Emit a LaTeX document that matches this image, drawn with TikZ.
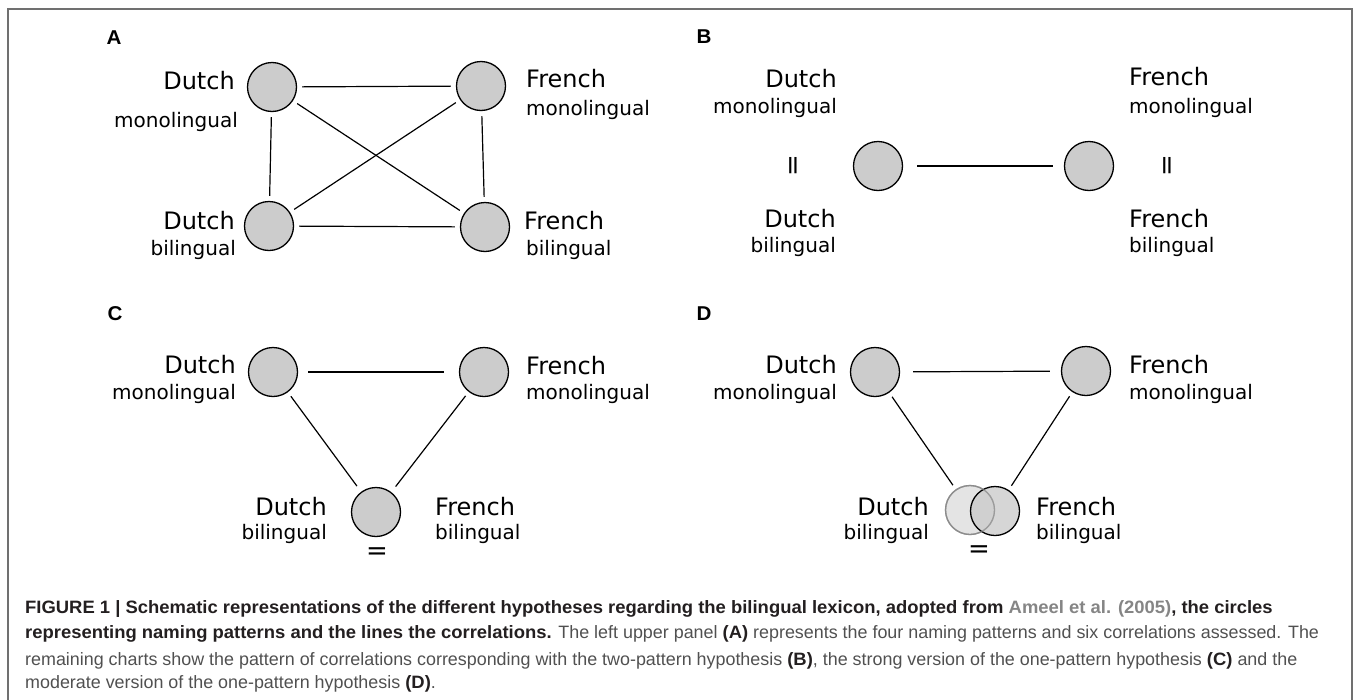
\documentclass[tikz,border=0pt]{standalone}
\usepackage{fontspec}
\setmainfont{DejaVu Sans}
\newfontfamily\capfont{Liberation Sans}[BoldFeatures={FakeStretch=1.03}]
\definecolor{circfill}{HTML}{CCCCCC}
\definecolor{lightfill}{HTML}{E4E4E4}
\definecolor{lightline}{HTML}{8C8C8C}
\definecolor{framegray}{HTML}{707070}
\definecolor{captext}{HTML}{505050}
\definecolor{capbold}{HTML}{231F20}
\definecolor{capref}{HTML}{858585}
\newcommand{\capb}[1]{{\color{capbold}\bfseries #1}}
\tikzset{
  npat/.style={circle,draw,fill=circfill,line width=1.3pt,minimum size=49pt,inner sep=0pt},
  corr/.style={line width=1.2pt,shorten <=5pt,shorten >=5pt},
  grp/.style={inner sep=0pt,font=\fontsize{24}{24}\selectfont},
  sub/.style={inner sep=0pt,font=\fontsize{20}{20}\selectfont},
  panel/.style={inner sep=0pt,font=\capfont\bfseries\fontsize{20}{20}\selectfont},
  eqsign/.style={inner sep=0pt,font=\fontsize{26}{26}\selectfont},
  capline/.style={inner sep=0pt,anchor=base west,text=captext,font=\capfont\fontsize{17.9}{17.9}\selectfont}
}
\begin{document}
\begin{tikzpicture}[x=1pt,y=-1pt]
\useasboundingbox (0,0) rectangle (1357,699);
\draw[framegray,line width=1.2pt](8,712)--(8,9)--(1352,9)--(1352,712);
% panel A
\node[panel](lA) at (114,38){A};
\node[npat](dmA) at (272,87){};
\node[npat](fmA) at (481,86){};
\node[npat](dbA) at (269,226){};
\node[npat](fbA) at (485,227){};
\draw[corr](dmA)--(fmA);
\draw[corr](dbA)--(fbA);
\draw[corr](dmA)--(dbA);
\draw[corr](fmA)--(fbA);
\draw[corr](dmA)--(fbA);
\draw[corr](fmA)--(dbA);
\node[grp,anchor=base east](tdmA) at (235,89){Dutch};
\node[sub,anchor=base east](sdmA) at (238,127){monolingual};
\node[grp,anchor=base west](tfmA) at (526,87){French};
\node[sub,anchor=base west](sfmA) at (526,115){monolingual};
\node[grp,anchor=base east](tdbA) at (235,229){Dutch};
\node[sub,anchor=base east](sdbA) at (236,255){bilingual};
\node[grp,anchor=base west](tfbA) at (524,229){French};
\node[sub,anchor=base west](sfbA) at (526,255){bilingual};
% panel B
\node[panel](lB) at (704,37){B};
\node[npat](dB) at (878,166){};
\node[npat](fB) at (1089,166){};
\draw[corr,shorten <=14pt,shorten >=11pt](dB)--(fB);
\node[eqsign,rotate=90](eqdB) at (796,166){=};
\node[eqsign,rotate=90](eqfB) at (1170,166){=};
\node[grp,anchor=base east](tdmB) at (837,87){Dutch};
\node[sub,anchor=base east](sdmB) at (837,113){monolingual};
\node[grp,anchor=base west](tfmB) at (1129,85){French};
\node[sub,anchor=base west](sfmB) at (1129,113){monolingual};
\node[grp,anchor=base east](tdbB) at (836,227){Dutch};
\node[sub,anchor=base east](sdbB) at (836,252){bilingual};
\node[grp,anchor=base west](tfbB) at (1129,227){French};
\node[sub,anchor=base west](sfbB) at (1129,252){bilingual};
% panel C
\node[panel](lC) at (115,314){C};
\node[npat](dmC) at (273,372){};
\node[npat](fmC) at (484,372){};
\node[npat](bC) at (376,512){};
\draw[corr,shorten <=10pt,shorten >=15pt](dmC)--(fmC);
\draw[corr,shorten >=7pt](dmC)--(bC);
\draw[corr,shorten >=7pt](fmC)--(bC);
\node[eqsign](eqC) at (377,554){=};
\node[grp,anchor=base east](tdmC) at (236,373){Dutch};
\node[sub,anchor=base east](sdmC) at (236,399){monolingual};
\node[grp,anchor=base west](tfmC) at (526,374){French};
\node[sub,anchor=base west](sfmC) at (526,399){monolingual};
\node[grp,anchor=base east](tdbC) at (327,515){Dutch};
\node[sub,anchor=base east](sdbC) at (327,539){bilingual};
\node[grp,anchor=base west](tfbC) at (435,515){French};
\node[sub,anchor=base west](sfbC) at (435,539){bilingual};
% panel D
\node[panel](lD) at (704,314){D};
\node[npat](dmD) at (875,372){};
\node[npat](fmD) at (1086,371){};
\node[npat,fill=lightfill,draw=lightline](dbD) at (970,510){};
\node[npat,fill opacity=0.8](fbD) at (995,511){};
\draw[lightline,line width=1.3pt,draw opacity=0.7](dbD.center) circle[radius=24.5pt];
\draw[corr,shorten <=13pt,shorten >=11pt](dmD)--(fmD);
\draw[corr](dmD)--(dbD);
\draw[corr](fmD)--(fbD);
\node[eqsign](eqD) at (979,552){=};
\node[grp,anchor=base east](tdmD) at (837,373){Dutch};
\node[sub,anchor=base east](sdmD) at (837,399){monolingual};
\node[grp,anchor=base west](tfmD) at (1129,373){French};
\node[sub,anchor=base west](sfmD) at (1129,399){monolingual};
\node[grp,anchor=base east](tdbD) at (929,515){Dutch};
\node[sub,anchor=base east](sdbD) at (929,539){bilingual};
\node[grp,anchor=base west](tfbD) at (1036,515){French};
\node[sub,anchor=base west](sfbD) at (1036,539){bilingual};
% caption
\node[capline](cap1) at (25,613){\capb{FIGURE 1 | Schematic representations of the different hypotheses regarding the bilingual lexicon, adopted from {\color{capref}Ameel et al. (2005)}, the circles}};
\node[capline](cap2) at (25,638){\capb{representing naming patterns and the lines the correlations.} The left upper panel \capb{(A)} represents the four naming patterns and six correlations assessed. The};
\node[capline](cap3) at (25,665){remaining charts show the pattern of correlations corresponding with the two-pattern hypothesis \capb{(B)}, the strong version of the one-pattern hypothesis \capb{(C)} and the};
\node[capline](cap4) at (25,688){moderate version of the one-pattern hypothesis \capb{(D)}.};
\end{tikzpicture}
\end{document}
